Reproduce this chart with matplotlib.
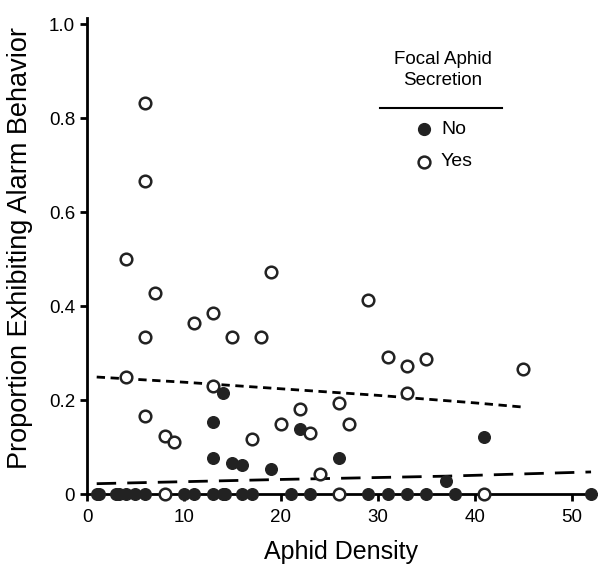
import matplotlib
matplotlib.use("Agg")
import matplotlib.pyplot as plt
from matplotlib.lines import Line2D

plt.rcParams["font.family"] = ["Liberation Sans", "DejaVu Sans"]

# Focal aphid secretion = Yes (open circles)
yes_x = [6, 6, 4, 7, 6, 4, 6, 8, 9, 11, 13, 13, 15, 17, 18, 19, 20, 22, 23, 24,
         26, 27, 29, 31, 33, 33, 35, 45, 8, 26, 41]
yes_y = [0.832, 0.667, 0.50, 0.428, 0.335, 0.249, 0.166, 0.124, 0.111, 0.364,
         0.385, 0.230, 0.334, 0.117, 0.334, 0.473, 0.150, 0.182, 0.130, 0.042,
         0.194, 0.149, 0.414, 0.291, 0.273, 0.214, 0.287, 0.266, 0, 0, 0]

# Focal aphid secretion = No (filled circles)
no_x = [14, 13, 13, 15, 16, 19, 22, 26, 41, 37,
        1, 1.2, 3, 3.3, 4, 5, 6, 10, 11, 13, 14, 14.2, 16, 17, 21, 23,
        29, 31, 33, 35, 38, 52]
no_y = [0.214, 0.154, 0.077, 0.067, 0.062, 0.053, 0.138, 0.077, 0.122, 0.028,
        0, 0, 0, 0, 0, 0, 0, 0, 0, 0, 0, 0, 0, 0, 0, 0,
        0, 0, 0, 0, 0, 0]

# fitted trend lines
fit_yes_x = [1, 10, 20, 30, 40, 45]
fit_yes_y = [0.249, 0.238, 0.224, 0.210, 0.194, 0.185]
fit_no_x = [1, 20, 37, 52]
fit_no_y = [0.022, 0.031, 0.038, 0.047]

fig = plt.figure(figsize=(5.98, 5.7), dpi=100)
ax = fig.add_axes([0.1455, 0.1333, 0.851, 0.835])

ax.plot(fit_yes_x, fit_yes_y, color="black", lw=2, dashes=(3, 2))
ax.plot(fit_no_x, fit_no_y, color="black", lw=2, dashes=(7, 4))

ax.scatter(no_x, no_y, s=70, color="#222222", edgecolor="#222222", lw=1,
           clip_on=False, zorder=3)
ax.scatter(yes_x, yes_y, s=70, facecolor="white", edgecolor="#222222", lw=1.8,
           clip_on=False, zorder=4)

ax.set_xlim(0, 52.5)
ax.set_ylim(0, 1.013)
ax.set_xticks([0, 10, 20, 30, 40, 50])
ax.set_yticks([0, 0.2, 0.4, 0.6, 0.8, 1.0])
ax.set_yticklabels(["0", "0.2", "0.4", "0.6", "0.8", "1.0"])
for s in ["top", "right"]:
    ax.spines[s].set_visible(False)
for s in ["left", "bottom"]:
    ax.spines[s].set_linewidth(2)
ax.tick_params(direction="out", length=5, width=2, labelsize=13.5)
ax.tick_params(axis="x", pad=6)

ax.set_xlabel("Aphid Density", fontsize=18, labelpad=10)
ax.set_ylabel("Proportion Exhibiting Alarm Behavior", fontsize=19.5)
ax.yaxis.set_label_coords(-0.106, 0.517)

# custom legend
fig.text(443 / 598, 1 - 70 / 570, "Focal Aphid\nSecretion", ha="center",
         va="center", fontsize=13.5, linespacing=1.35)
fig.add_artist(Line2D([380 / 598, 502 / 598], [1 - 108 / 570, 1 - 108 / 570],
                      color="black", lw=1.5))
fig.add_artist(Line2D([424 / 598], [1 - 129 / 570], marker="o", ms=8.5,
                      color="#222222", ls="none"))
fig.add_artist(Line2D([424 / 598], [1 - 162 / 570], marker="o", ms=8.5,
                      mfc="white", mec="#222222", mew=1.8, ls="none"))
fig.text(441 / 598, 1 - 129 / 570, "No", ha="left", va="center", fontsize=14)
fig.text(441 / 598, 1 - 162 / 570, "Yes", ha="left", va="center", fontsize=14)

fig.savefig("out.png", dpi=100)
